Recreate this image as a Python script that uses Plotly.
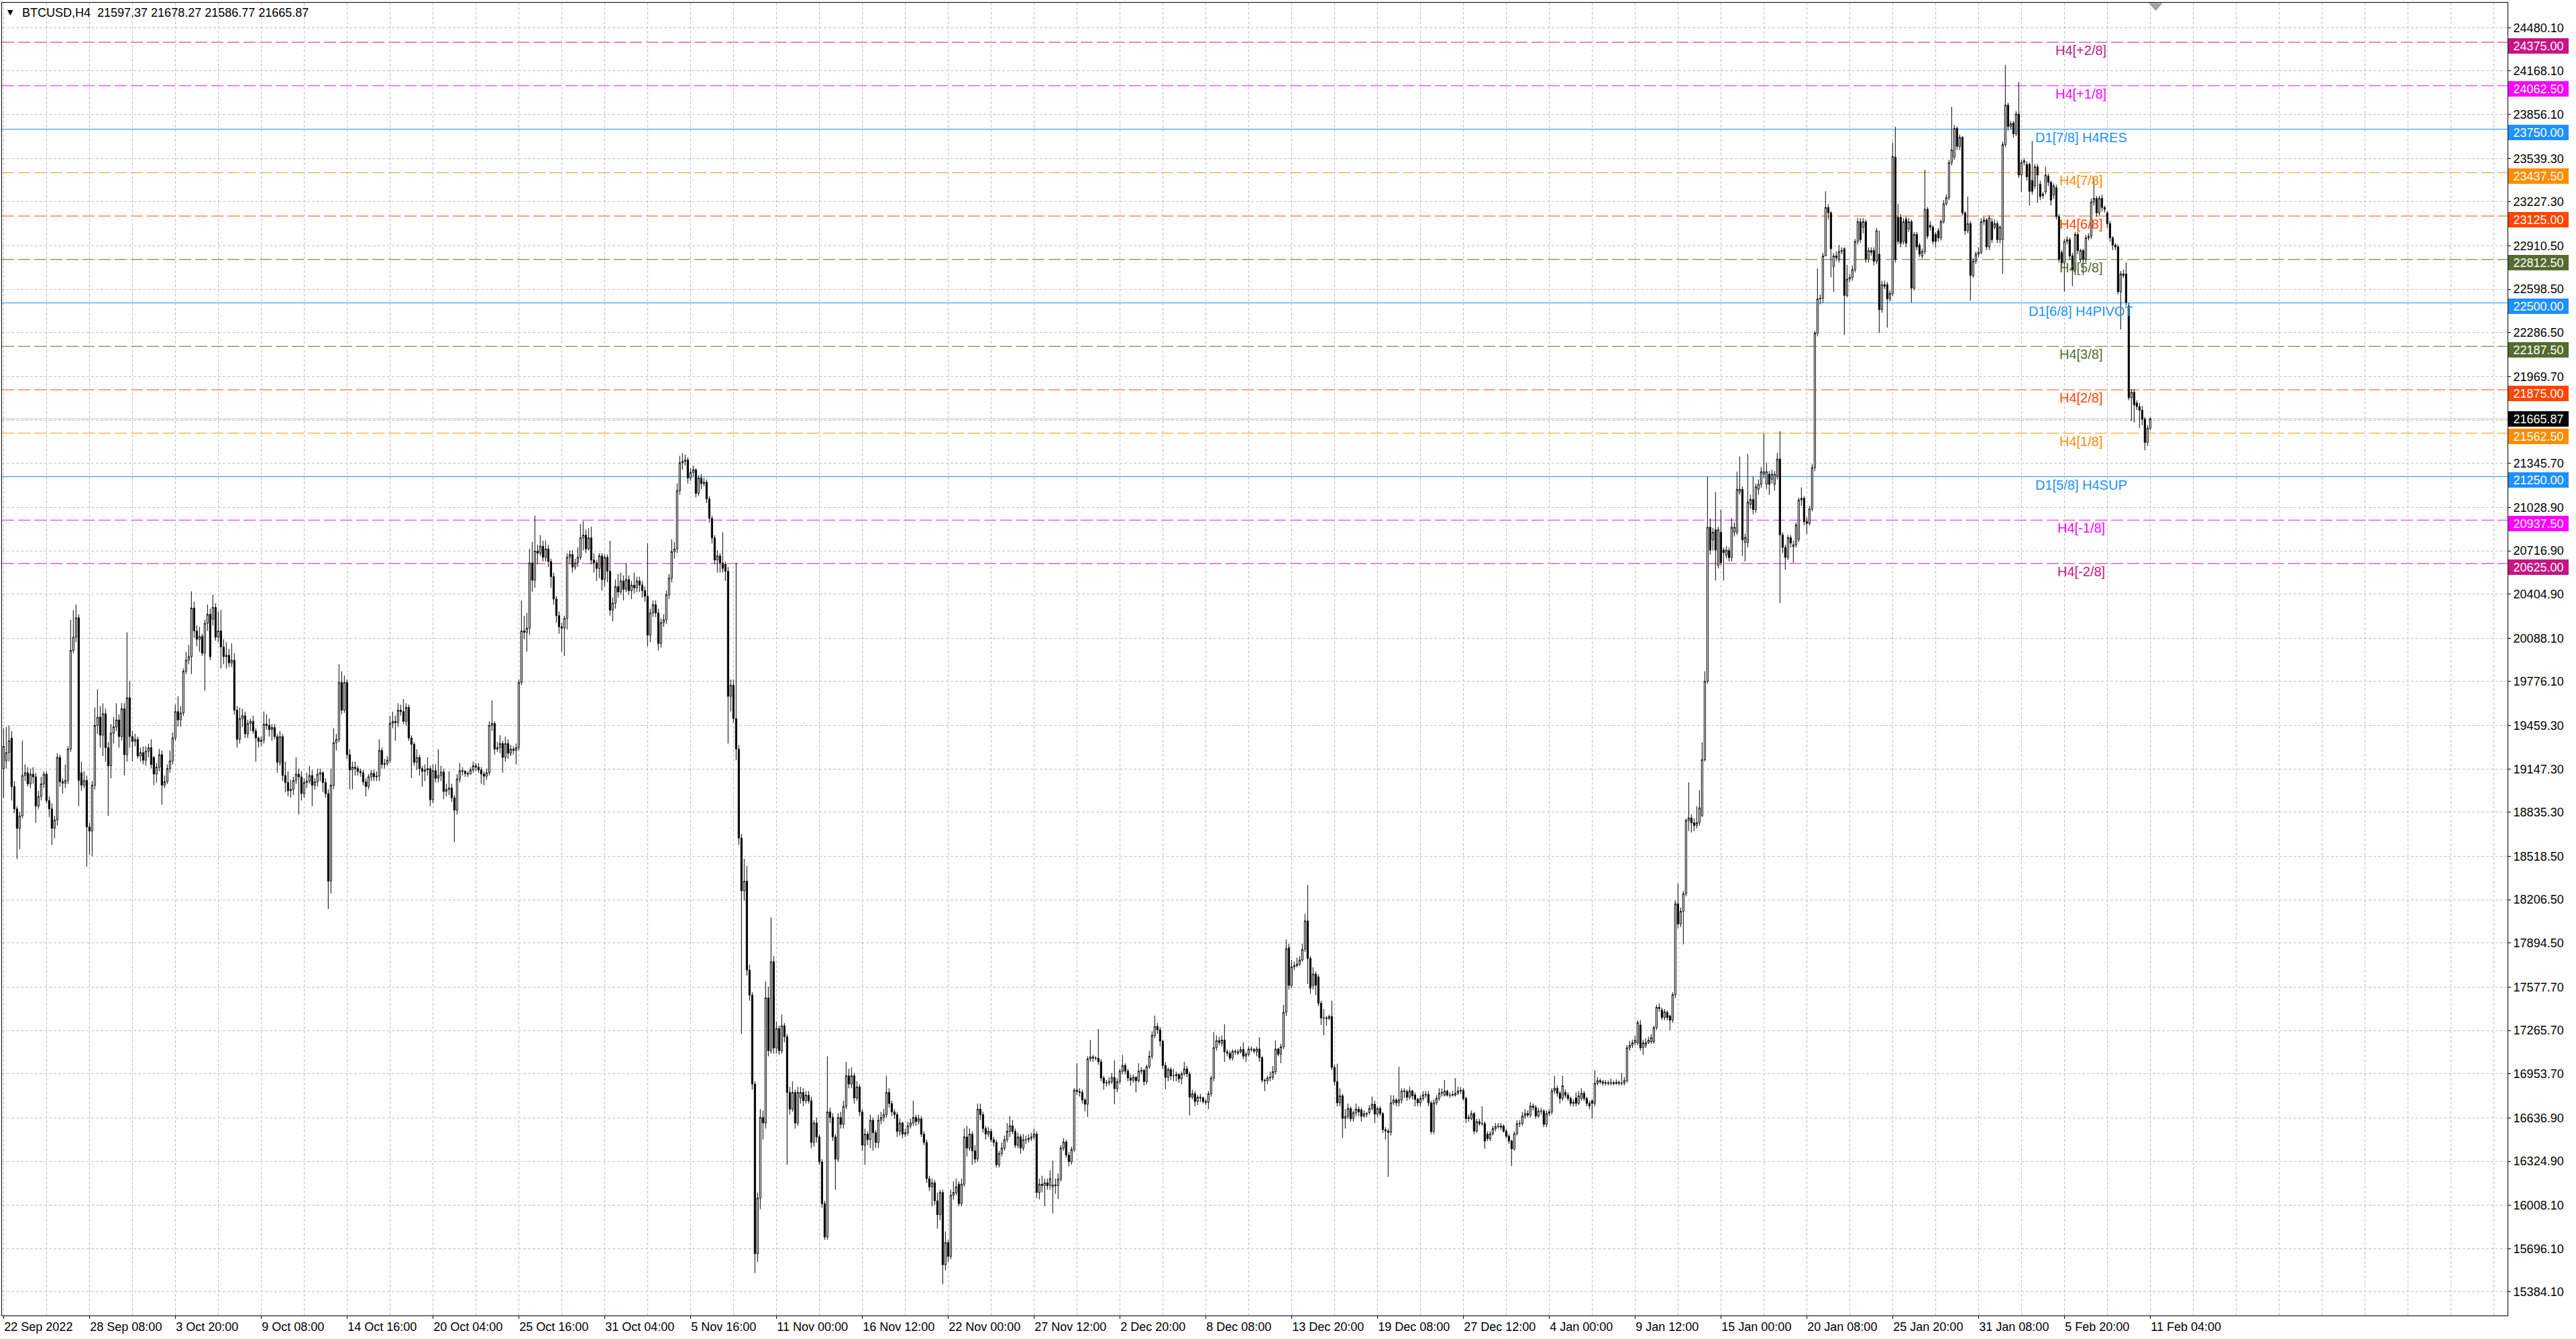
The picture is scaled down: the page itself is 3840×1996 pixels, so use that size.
import plotly.graph_objects as go

# ---------------- data (BTCUSD, H4) ----------------
OPEN = [
19150,19206,19265,19370,19020,18860,18720,18810,19100,19120,
19040,19110,19090,18880,18950,19040,19110,18920,18860,18720,
18780,19230,19055,19045,19065,19290,20000,20095,20235,19120,
19030,19065,18730,18700,19030,19460,19520,19390,19545,19300,
19170,19405,19450,19500,19380,19580,19250,19660,19380,19345,
19360,19240,19265,19210,19275,19300,19230,19110,19160,19250,
19030,19055,19150,19205,19370,19560,19500,19550,19850,19930,
19955,20305,20140,20080,20100,19980,20195,20260,20225,20310,
20095,20140,20025,19955,19965,19910,19930,19570,19360,19510,
19530,19400,19475,19490,19420,19370,19345,19355,19470,19460,
19430,19445,19380,19195,19380,19100,19050,18990,19000,19065,
19110,19090,18970,19050,19060,19100,19030,19055,19110,19120,
19050,18970,18340,19030,19335,19360,19770,19570,19770,19250,
19140,19160,19150,19130,19120,19055,19020,19090,19115,19090,
19095,19280,19180,19185,19210,19475,19490,19480,19570,19560,
19490,19590,19370,19325,19195,19230,19150,19130,19140,19150,
18925,19135,19080,19100,19125,18985,19000,19010,18940,18850,
19075,19135,19130,19115,19110,19140,19170,19160,19140,19110,
19095,19120,19460,19475,19290,19300,19330,19230,19330,19260,
19290,19280,19300,19770,20140,20130,20160,20630,20505,20715,
20700,20750,20670,20730,20640,20530,20370,20250,20170,20160,
20230,20670,20690,20600,20630,20670,20810,20830,20730,20810,
20650,20630,20590,20680,20510,20670,20570,20290,20340,20460,
20420,20500,20440,20510,20430,20470,20450,20500,20470,20430,
20390,20110,20270,20330,20270,20050,20200,20220,20400,20520,
20710,20730,21150,21350,21360,21370,21240,21280,21300,21130,
21240,21200,21210,21090,20950,20810,20650,20680,20630,20620,
20570,19670,19750,19510,19290,18650,18270,18340,17700,17520,
16880,15660,16060,16640,16600,17500,17120,17760,17140,17280,
17120,17300,17220,16820,16700,16820,16600,16780,16820,16760,
16800,16760,16460,16600,16500,16320,16020,15780,16680,16640,
16500,16340,16640,16590,16720,16940,16880,16940,16780,16860,
16680,16440,16520,16480,16620,16530,16460,16620,16640,16660,
16820,16740,16680,16660,16540,16600,16520,16530,16580,16600,
16640,16610,16630,16520,16460,16200,16140,16170,16040,15940,
16100,15580,15740,15640,16080,16100,16160,16020,16160,16500,
16420,16520,16400,16340,16700,16660,16560,16520,16540,16480,
16460,16300,16380,16420,16480,16540,16580,16540,16440,16500,
16420,16480,16480,16490,16500,16520,16100,16160,16150,16170,
16150,16140,16155,16150,16196,16420,16464,16369,16322,16409,
16837,16827,16821,16766,16735,17061,17075,17067,17067,17040,
16924,16888,16890,16898,16928,16847,16898,16973,17014,16973,
16924,16908,16930,16904,16973,16979,16898,17004,17081,17230,
17295,17271,17189,17014,16928,16985,16939,16940,16949,16918,
16953,16990,16953,16786,16810,16755,16786,16780,16755,16749,
16810,16924,17142,17193,17173,17197,17112,17102,17067,17116,
17102,17112,17128,17081,17095,17132,17128,17112,17132,17071,
16908,16904,16924,16928,16969,17132,17095,17148,17397,17861,
17590,17723,17733,17743,17773,17849,18054,17784,17590,17672,
17651,17462,17356,17356,17352,17366,17000,16898,16745,16796,
16633,16648,16705,16633,16674,16700,16694,16648,16668,16674,
16705,16735,16664,16705,16668,16552,16542,16532,16745,16766,
16745,16766,16831,16827,16786,16831,16802,16770,16745,16776,
16802,16806,16745,16538,16745,16777,16814,16800,16830,16800,
16800,16800,16814,16830,16835,16777,16632,16632,16668,16541,
16610,16596,16596,16520,16487,16523,16559,16575,16578,16578,
16541,16505,16470,16414,16523,16596,16596,16650,16668,16657,
16722,16712,16650,16686,16686,16590,16668,16680,16832,16850,
16814,16777,16820,16800,16777,16741,16780,16741,16777,16814,
16777,16741,16760,16741,16886,16905,16896,16886,16890,16886,
16890,16884,16893,16886,16886,16905,17141,17159,17177,17177,
17305,17141,17159,17177,17185,17185,17286,17432,17413,17359,
17395,17370,17340,17523,18177,18032,18123,18250,18777,18795,
18760,18741,18760,18813,19214,19777,20886,20795,20868,20613,
20850,20722,20686,20718,20668,20850,20850,21141,21159,20777,
20777,21050,21086,21013,21160,21195,21268,21195,21268,21232,
21195,21250,21377,20831,20741,20669,20811,20747,20760,20798,
21082,21095,20927,20914,21018,21315,22283,22529,22534,22838,
23187,23148,22761,22838,22813,22870,22890,22554,22671,22684,
22740,22942,23084,23045,23084,22813,22877,22877,22800,22851,
22451,22632,22632,22529,22568,23549,23117,23117,22942,23102,
23032,23084,22606,22993,22916,22838,22870,23174,23058,23045,
22993,23019,22968,23084,23213,23257,23510,23549,23755,23626,
23691,23148,23019,23071,22697,22800,22851,22864,23084,23097,
22903,23084,23045,23071,22955,22955,23639,23923,23768,23794,
23717,23859,23420,23510,23497,23497,23381,23342,23479,23355,
23272,23300,23412,23368,23277,23329,23122,22864,22787,22942,
22955,22838,22735,22993,22813,22877,22813,22968,22980,23226,
23252,23148,23252,23187,23148,23071,22968,22916,22903,22580,
22709,22709,22477,21818,21857,21780,21754,21728,21663,21496,
21597.37,
]

HIGH = [
19440,19450,19460,19420,19060,18880,18840,19350,19180,19160,
19150,19160,19120,18990,19090,19130,19130,18950,18900,18810,
19260,19250,19080,19180,19310,20220,20290,20330,20260,19200,
19130,19100,18760,19060,19590,19720,19600,19620,19580,19340,
19470,19520,19620,19540,19620,19620,20130,19780,19420,19400,
19380,19300,19310,19310,19330,19360,19240,19190,19290,19280,
19100,19180,19280,19410,19610,19670,19600,19870,19990,20040,
20425,20350,20180,20170,20120,20220,20330,20300,20400,20340,
20280,20290,20080,20060,20010,20050,19980,19600,19590,19580,
19560,19500,19510,19530,19440,19380,19380,19560,19540,19510,
19470,19470,19400,19420,19400,19200,19130,19070,19090,19230,
19150,19130,19080,19120,19170,19140,19080,19150,19150,19130,
19080,19000,19150,19440,19400,19900,19850,19820,19790,19290,
19200,19200,19170,19150,19140,19080,19110,19140,19140,19130,
19360,19300,19220,19240,19530,19560,19530,19620,19610,19650,
19620,19610,19390,19340,19290,19250,19170,19180,19230,19170,
19180,19180,19290,19170,19150,19040,19130,19040,18960,19110,
19190,19160,19140,19130,19160,19200,19190,19190,19160,19130,
19150,19490,19640,19490,19340,19390,19350,19380,19360,19320,
19310,19330,19790,20360,20250,20270,20730,20780,20970,20760,
20830,20790,20790,20760,20660,20560,20390,20280,20200,20250,
20700,20720,20720,20660,20740,20910,20930,20870,20880,20890,
20700,20650,20700,20700,20690,20690,20790,20380,20510,20550,
20560,20540,20630,20540,20500,20560,20530,20530,20500,20460,
20770,20300,20360,20360,20300,20230,20260,20430,20550,20800,
20780,21200,21400,21420,21410,21390,21310,21330,21310,21260,
21270,21240,21230,21110,20970,20830,20720,20700,20850,20640,
20600,19790,19790,20630,19320,18680,18500,18450,17740,17540,
16900,16100,16700,16690,17620,17580,18080,17800,17330,17300,
17380,17320,17240,16860,16900,16840,16860,16860,16850,16830,
16830,16790,16620,16640,16520,16340,16040,17080,16710,16670,
16520,16670,16680,16760,17040,16990,17000,16960,16900,16880,
16700,16560,16540,16660,16640,16550,16660,16680,16700,16940,
16850,16760,16700,16680,16630,16610,16560,16610,16630,16760,
16660,16660,16650,16540,16480,16220,16200,16190,16100,16120,
16120,15820,15760,16120,16180,16200,16180,16200,16560,16580,
16560,16540,16440,16740,16740,16680,16580,16570,16560,16500,
16480,16400,16460,16510,16600,16650,16620,16560,16530,16520,
16520,16510,16520,16530,16560,16540,16200,16220,16200,16200,
16260,16330,16200,16236,16440,16491,16480,16390,16430,16850,
17030,16850,16840,16780,17080,17197,17090,17080,17275,17060,
16940,16910,16930,16960,17051,16920,16990,17090,17030,16990,
16950,16950,16935,17030,17000,16990,17020,17120,17260,17372,
17320,17290,17200,17040,17000,17000,16990,16970,16960,16970,
17040,17010,16970,16840,16830,16800,16810,16790,16770,16830,
16940,17254,17230,17220,17230,17311,17130,17120,17130,17130,
17130,17150,17180,17110,17150,17150,17140,17150,17218,17080,
16920,16940,16970,17010,17193,17140,17170,17450,17920,17890,
17773,17760,17790,17800,17890,18105,18313,17800,17720,17690,
17670,17480,17420,17370,17380,17480,17020,17026,16850,16810,
16700,16740,16720,16690,16740,16720,16710,16690,16680,16730,
16790,16760,16720,16720,16680,16570,16560,16800,16800,16780,
17004,16850,16850,16840,16860,16840,16820,16780,16800,16830,
16830,16830,16760,16770,16800,16850,16850,16910,16840,16820,
16830,16923,16860,16860,16850,16790,16660,16690,16680,16630,
16630,16720,16610,16540,16540,16580,16600,16600,16600,16590,
16560,16520,16480,16540,16620,16620,16680,16700,16690,16750,
16740,16730,16710,16710,16700,16690,16700,16850,16940,16870,
16830,16940,16840,16820,16790,16770,16820,16830,16850,16830,
16790,16760,16770,16980,16930,16920,16910,16910,16905,16920,
16905,16915,16905,16960,16930,17160,17190,17200,17230,17340,
17340,17200,17210,17220,17240,17300,17450,17460,17430,17420,
17410,17380,17540,18200,18323,18150,18270,18790,19050,18820,
18790,18880,18995,19340,19850,21250,20950,20880,21141,20890,
21013,20740,20750,20740,20950,20920,21286,21395,21180,20840,
21413,21120,21250,21200,21230,21320,21559,21350,21290,21300,
21290,21420,21577,20850,20760,20830,20830,20790,20920,21100,
21173,21110,20960,21040,21340,22300,22748,22560,22860,23303,
23210,23160,22860,22870,22916,22900,22900,22774,22710,22770,
22960,23110,23110,23110,23100,22900,22900,22900,23040,23020,
22660,22660,22650,22590,23652,23768,23213,23140,23110,23120,
23110,23100,23010,23010,22930,22890,23458,23190,23090,23060,
23010,23040,23100,23240,23280,23530,23910,23780,23770,23711,
23700,23160,23265,23090,22820,22870,22900,23110,23120,23110,
23130,23110,23100,23090,23060,23660,24212,23940,23810,23810,
23880,24091,23530,23540,23520,23510,23665,23500,23500,23380,
23300,23480,23430,23380,23360,23350,23140,22880,22960,22980,
22970,22860,23010,23010,22890,22890,22990,23000,23250,23400,
23270,23270,23280,23200,23160,23090,22980,22930,22920,22730,
22740,22790,22500,21880,21880,21800,21780,21760,21680,21620,
21678.27,
]

LOW = [
18940,19150,19200,18920,18830,18500,18570,18790,19060,19020,
19010,19040,18760,18860,18920,19010,18900,18800,18600,18650,
18740,19020,18970,19010,19040,19270,19980,20060,18880,18990,
19010,18445,18530,18520,19000,19400,19300,19240,19200,18810,
19080,19330,19420,19300,19350,19100,19200,19300,19200,19310,
19220,19200,19180,19170,19230,19150,19030,19050,19130,18890,
19010,19040,19120,19180,19350,19450,19450,19530,19830,19900,
19830,20090,20030,19990,19960,19710,20140,19930,20180,20070,
20060,19870,19900,19870,19880,19880,19540,19300,19330,19450,
19370,19370,19420,19400,19200,19300,19310,19330,19430,19380,
19350,19360,19120,19170,19060,18980,18950,18940,18960,19040,
18820,18920,18940,19010,19040,18880,19000,19020,19060,18980,
18940,18140,18250,19000,19280,19340,19540,19550,19220,19000,
19000,19100,19100,19090,19030,18950,19000,19060,19060,19060,
19060,19150,19150,19170,19190,19440,19350,19450,19530,19470,
19460,19350,19080,19170,19140,19100,19020,19060,19100,18880,
18900,19050,19050,19060,18930,18950,18960,18910,18620,18820,
19050,19100,19090,19090,19110,19120,19130,19120,19040,19030,
19070,19100,19420,19250,19270,19260,19120,19200,19220,19240,
19250,19180,19280,19750,20080,19990,20110,20420,20450,20620,
20680,20640,20640,20600,20450,20330,20200,20120,19990,19960,
20150,20620,20560,20580,20600,20650,20720,20700,20720,20620,
20560,20500,20520,20430,20460,20490,20250,20210,20300,20380,
20400,20360,20420,20400,20370,20410,20420,20420,20380,20350,
20030,20060,20240,20240,20000,20020,20170,20190,20370,20490,
20660,20700,21120,21300,21330,21200,21220,21250,21100,21110,
21160,21180,21060,20920,20770,20620,20560,20560,20560,20500,
19330,19560,19480,19210,18600,17240,18200,17660,17480,16840,
15520,15600,15980,16480,16560,17080,17100,17100,17100,17090,
17100,17180,16300,16660,16680,16560,16580,16740,16720,16740,
16740,16420,16430,16460,16300,15990,15760,15760,16600,16470,
16120,16320,16560,16560,16700,16850,16850,16740,16760,16650,
16400,16300,16440,16420,16400,16420,16420,16590,16610,16640,
16710,16650,16630,16500,16510,16490,16500,16510,16560,16580,
16580,16590,16500,16440,16170,16110,16000,16010,15840,15900,
15440,15540,15600,15620,16050,16080,16000,16000,16140,16360,
16400,16300,16310,16320,16620,16530,16480,16500,16460,16430,
16280,16280,16360,16400,16460,16500,16520,16420,16420,16380,
16400,16450,16460,16470,16480,16060,16050,16100,16000,16120,
16120,15950,16090,16053,16180,16400,16350,16287,16300,16390,
16800,16790,16740,16684,16644,17040,17040,17050,17020,16900,
16840,16860,16870,16880,16735,16820,16880,16950,16950,16900,
16870,16890,16820,16890,16950,16870,16880,16990,17060,17210,
17240,17150,16990,16843,16900,16910,16900,16900,16890,16880,
16940,16930,16654,16770,16720,16730,16750,16740,16730,16700,
16790,16900,17120,17160,17150,17040,17080,17050,17050,17090,
17090,17100,17060,17040,17080,17110,17100,17080,17040,16890,
16830,16880,16900,16910,16950,17080,17030,17130,17370,17560,
17570,17700,17720,17730,17760,17830,17600,17530,17560,17520,
17440,17305,17230,17300,17340,16980,16870,16720,16720,16491,
16560,16630,16610,16610,16650,16650,16610,16640,16640,16660,
16690,16600,16640,16650,16530,16480,16212,16510,16730,16720,
16720,16740,16780,16760,16770,16770,16720,16720,16720,16760,
16780,16720,16520,16520,16730,16760,16790,16790,16790,16780,
16790,16790,16800,16810,16760,16600,16610,16620,16520,16530,
16580,16580,16414,16470,16470,16510,16540,16560,16550,16530,
16490,16450,16290,16400,16510,16570,16580,16630,16640,16640,
16690,16630,16640,16660,16570,16570,16650,16660,16810,16790,
16740,16760,16780,16760,16720,16720,16720,16730,16760,16760,
16720,16700,16632,16720,16870,16880,16870,16870,16870,16870,
16870,16875,16870,16870,16870,16890,17120,17140,17160,17160,
17120,17090,17140,17170,17170,17170,17270,17400,17340,17340,
17340,17268,17320,17500,18000,18010,17886,18230,18700,18690,
18700,18720,18740,18800,19200,19760,20690,20720,20504,20590,
20610,20504,20660,20640,20640,20820,20830,21120,20680,20640,
20740,21020,20980,20990,21120,21170,21240,21160,21120,21200,
21150,21230,20341,20700,20580,20650,20740,20630,20740,20780,
21040,20900,20837,20900,21000,21290,22260,22490,22500,22838,
23100,22684,22580,22800,22790,22850,22270,22540,22650,22660,
22720,22920,22930,23000,22790,22790,22840,22770,22780,22283,
22430,22600,22322,22510,22550,22790,22920,22900,22920,22900,
23010,22503,22590,22880,22830,22820,22850,22960,23020,22920,
22900,22940,22950,23070,23200,23240,23490,23530,23600,23600,
23130,22990,23000,22516,22680,22780,22830,22850,23060,22880,
22880,22930,23030,22930,22930,22709,23620,23740,23750,23690,
23700,23400,23300,23490,23380,23200,23280,23320,23220,23240,
23250,23280,23340,23200,23250,23100,22790,22760,22580,22920,
22810,22620,22700,22850,22790,22700,22790,22950,22960,23200,
23120,23130,23160,23150,23040,22940,22880,22880,22560,22309,
22680,22480,21800,21650,21640,21730,21600,21620,21440,21470,
21586.77,
]

CLOSE = [
19310,19265,19350,19020,18860,18720,18810,19100,19120,19040,
19110,19090,18880,18950,19040,19110,18920,18860,18720,18780,
19230,19055,19045,19065,19290,20000,20095,20235,19065,19030,
19065,18730,18700,19030,19460,19520,19390,19545,19300,19170,
19405,19450,19500,19380,19580,19250,19660,19380,19345,19360,
19240,19265,19210,19275,19300,19180,19110,19160,19250,19030,
19055,19150,19205,19370,19560,19500,19550,19850,19930,19955,
20305,20140,20080,20100,19980,20195,20260,19955,20310,20095,
20140,20025,19955,19965,19910,19930,19570,19360,19510,19530,
19400,19475,19490,19420,19370,19345,19355,19470,19460,19430,
19445,19380,19195,19380,19100,19050,18990,19000,19065,19110,
19090,18970,19050,19060,19100,19030,19055,19110,19120,19050,
18970,18340,19030,19335,19360,19770,19570,19770,19250,19140,
19160,19150,19130,19120,19055,19020,19090,19115,19090,19095,
19280,19180,19185,19210,19475,19490,19480,19570,19560,19490,
19590,19370,19325,19195,19230,19150,19130,19140,19150,18925,
19135,19080,19100,19125,18985,19000,19010,18940,18850,19075,
19135,19130,19115,19110,19140,19170,19160,19140,19110,19095,
19120,19460,19475,19290,19300,19330,19230,19330,19260,19290,
19280,19300,19770,20140,20130,20160,20630,20505,20715,20700,
20750,20670,20730,20640,20530,20370,20250,20170,20160,20230,
20670,20690,20600,20630,20670,20810,20830,20730,20810,20650,
20630,20590,20680,20510,20670,20570,20290,20340,20460,20420,
20500,20440,20510,20430,20470,20450,20500,20470,20430,20390,
20110,20270,20330,20270,20050,20200,20220,20400,20520,20710,
20730,21150,21350,21360,21370,21240,21280,21300,21130,21240,
21200,21210,21090,20950,20810,20650,20680,20630,20590,20570,
19670,19750,19510,19290,18650,18270,18340,17700,17520,16880,
15660,16060,16640,16600,17500,17120,17760,17140,17280,17120,
17300,17220,16820,16700,16820,16600,16820,16820,16760,16800,
16760,16460,16600,16500,16320,16020,15780,16680,16640,16500,
16340,16640,16590,16720,16940,16880,16940,16780,16860,16680,
16440,16520,16480,16620,16530,16460,16620,16640,16660,16820,
16740,16680,16660,16540,16600,16520,16530,16580,16600,16640,
16610,16630,16520,16460,16200,16140,16170,16040,15940,16100,
15580,15740,15640,16080,16100,16140,16020,16160,16500,16420,
16520,16400,16340,16700,16660,16560,16520,16540,16480,16460,
16300,16380,16420,16480,16540,16580,16540,16440,16500,16420,
16480,16480,16490,16500,16520,16100,16160,16150,16170,16150,
16200,16155,16150,16196,16420,16464,16369,16322,16409,16837,
16827,16821,16766,16735,17061,17075,17067,17067,17040,16924,
16888,16890,16898,16928,16847,16898,16973,17014,16973,16924,
16908,16930,16904,16973,16979,16898,17004,17081,17230,17295,
17271,17189,17014,16928,16985,16939,16940,16949,16918,16953,
16990,16953,16786,16810,16755,16786,16780,16755,16749,16810,
16924,17142,17193,17180,17197,17112,17102,17067,17116,17112,
17112,17128,17081,17095,17132,17128,17118,17132,17071,16908,
16904,16924,16928,16969,17132,17095,17148,17397,17855,17590,
17723,17733,17743,17773,17849,18054,17784,17570,17672,17590,
17462,17356,17356,17352,17366,17000,16898,16745,16796,16633,
16648,16705,16630,16674,16700,16680,16648,16668,16664,16705,
16735,16664,16705,16668,16552,16542,16532,16745,16766,16745,
16766,16831,16827,16786,16831,16796,16770,16745,16776,16802,
16806,16745,16538,16745,16777,16814,16820,16830,16800,16800,
16805,16814,16830,16835,16777,16632,16640,16668,16541,16610,
16596,16596,16470,16487,16523,16559,16575,16578,16570,16541,
16505,16470,16414,16523,16596,16596,16650,16668,16657,16722,
16712,16650,16686,16686,16590,16668,16680,16832,16850,16814,
16777,16868,16800,16777,16741,16750,16741,16795,16814,16777,
16741,16723,16741,16886,16905,16896,16886,16890,16886,16890,
16884,16893,16886,16886,16905,17141,17159,17177,17195,17323,
17141,17177,17177,17195,17214,17286,17432,17423,17359,17400,
17359,17340,17523,18177,18032,18123,18250,18777,18795,18760,
18741,18760,18868,19214,19777,20886,20722,20850,20722,20868,
20632,20704,20722,20668,20886,20886,21159,21159,20795,20813,
21068,21086,21013,21177,21195,21286,21286,21286,21195,21268,
21268,21377,20831,20741,20669,20811,20772,20760,20902,21082,
21095,20927,20914,21018,21315,22283,22529,22534,22838,23187,
23148,22890,22838,22826,22870,22877,22554,22671,22684,22740,
22942,23084,22955,23084,22813,22877,22864,22800,23019,22451,
22632,22619,22529,22568,23554,22813,22942,22929,23084,22929,
23084,22606,22993,22903,22851,22870,23174,22980,23045,22942,
22942,22968,23084,23213,23257,23510,23600,23755,23626,23691,
23148,23019,23071,22697,22800,22851,22864,23084,23097,22903,
23110,22955,23071,22955,23045,23639,23923,23768,23789,23717,
23859,23420,23510,23523,23407,23303,23303,23479,23420,23265,
23283,23420,23368,23239,23342,23122,22813,22787,22942,22955,
22838,22735,22993,22877,22877,22813,22968,22980,23226,23252,
23148,23252,23187,23174,23071,22968,22916,22903,22580,22709,
22697,22503,21818,21857,21767,21754,21728,21663,21496,21599,
21665.87,
]

# time-axis labels (bar index of each label and its text)
X_LABEL_BARS = [0, 32, 64, 96, 128, 160, 192, 224, 256, 288, 320, 352, 384,
                416, 448, 480, 512, 544, 576, 608, 640, 672, 704, 736, 768, 800]
X_LABELS = ["22 Sep 2022", "28 Sep 08:00", "3 Oct 20:00", "9 Oct 08:00", "14 Oct 16:00",
            "20 Oct 04:00", "25 Oct 16:00", "31 Oct 04:00", "5 Nov 16:00", "11 Nov 00:00",
            "16 Nov 12:00", "22 Nov 00:00", "27 Nov 12:00", "2 Dec 20:00", "8 Dec 08:00",
            "13 Dec 20:00", "19 Dec 08:00", "27 Dec 12:00", "4 Jan 00:00", "9 Jan 12:00",
            "15 Jan 00:00", "20 Jan 08:00", "25 Jan 20:00", "31 Jan 08:00", "5 Feb 20:00",
            "11 Feb 04:00"]

# price-axis labels
Y_TICKS = [24480.10, 24168.10, 23856.10, 23539.30, 23227.30, 22910.50, 22598.50,
           22286.50, 21969.70, 21657.70, 21345.70, 21028.90, 20716.90, 20404.90,
           20088.10, 19776.10, 19459.30, 19147.30, 18835.30, 18518.50, 18206.50,
           17894.50, 17577.70, 17265.70, 16953.70, 16636.90, 16324.90, 16008.10,
           15696.10, 15384.10]

# Murrey-math style levels
LEVEL_PRICES = [24375.00, 24062.50, 23750.00, 23437.50, 23125.00, 22812.50, 22500.00,
                22187.50, 21875.00, 21562.50, 21250.00, 20937.50, 20625.00]
LEVEL_NAMES = ["H4[+2/8]", "H4[+1/8]", "D1[7/8] H4RES", "H4[7/8]", "H4[6/8]", "H4[5/8]",
               "D1[6/8] H4PIVOT", "H4[3/8]", "H4[2/8]", "H4[1/8]", "D1[5/8] H4SUP",
               "H4[-1/8]", "H4[-2/8]"]
LEVEL_COLORS = ["#C71585", "#FF00FF", "#1E90FF", "#FF8C00", "#FF4500", "#556B2F",
                "#1E90FF", "#556B2F", "#FF4500", "#FF8C00", "#1E90FF", "#FF00FF", "#C71585"]
LEVEL_SOLID = [False, False, True, False, False, False, True, False, False, False, True,
               False, False]

SYMBOL = "BTCUSD,H4"
BID = 21665.87

# ---------------- figure ----------------
n = len(CLOSE)
if not (len(OPEN) == len(HIGH) == len(LOW) == n):
    raise SystemExit(f"length mismatch O{len(OPEN)} H{len(HIGH)} L{len(LOW)} C{n}")

hi = [max(h, o, c) for o, h, c in zip(OPEN, HIGH, CLOSE)]
lo = [min(l, o, c) for o, l, c in zip(OPEN, LOW, CLOSE)]
bars = list(range(n))

FONT = "Liberation Sans, Arial, sans-serif"
GRID = "#C0C0C0"

fig = go.Figure()
fig.add_trace(go.Candlestick(
    x=bars, open=OPEN, high=hi, low=lo, close=CLOSE,
    increasing=dict(line=dict(color="black", width=1), fillcolor="white"),
    decreasing=dict(line=dict(color="black", width=1), fillcolor="black"),
    whiskerwidth=0, hoverinfo="skip", showlegend=False,
))

shapes = []
annotations = []
LABEL_BAR = 774.2
for p, name, col, solid in zip(LEVEL_PRICES, LEVEL_NAMES, LEVEL_COLORS, LEVEL_SOLID):
    shapes.append(dict(type="line", xref="paper", x0=0, x1=1, yref="y", y0=p, y1=p,
                       line=dict(color=col, width=1, dash="solid" if solid else "18px,6px"),
                       layer="below"))
    annotations.append(dict(x=LABEL_BAR, y=p, xref="x", yref="y", text=name,
                            showarrow=False, xanchor="center", yanchor="middle", yshift=-12,
                            font=dict(family=FONT, size=20, color=col)))
    annotations.append(dict(x=1, y=p, xref="paper", yref="y", text=f"{p:.2f}",
                            showarrow=False, xanchor="left", yanchor="middle", xshift=1, yshift=-5,
                            bgcolor=col, bordercolor=col, borderwidth=1, borderpad=2,
                            width=84, height=17, align="center",
                            font=dict(family=FONT, size=18, color="white")))

# bid line and its label
shapes.append(dict(type="line", xref="paper", x0=0, x1=1, yref="y", y0=BID, y1=BID,
                   line=dict(color="#C0C0C0", width=1), layer="below"))
annotations.append(dict(x=1, y=BID, xref="paper", yref="y", text=f"{BID:.2f}",
                        showarrow=False, xanchor="left", yanchor="middle", xshift=1,
                        bgcolor="black", bordercolor="black", borderwidth=1, borderpad=2,
                        width=84, height=17, align="center",
                        font=dict(family=FONT, size=18, color="white")))

# header
annotations.append(dict(x=0, y=1, xref="paper", yref="paper", text="\u25BC", showarrow=False,
                        xanchor="left", yanchor="top", xshift=6, yshift=-6,
                        font=dict(family="DejaVu Sans", size=11, color="black")))
annotations.append(dict(x=0, y=1, xref="paper", yref="paper",
                        text=f"{SYMBOL}\u00a0\u00a0{OPEN[-1]:.2f} {hi[-1]:.2f} {lo[-1]:.2f} {CLOSE[-1]:.2f}",
                        showarrow=False, xanchor="left", yanchor="top", xshift=28, yshift=-3,
                        font=dict(family=FONT, size=18, color="black")))

# chart-shift marker (small grey triangle on the top border)
shapes.append(dict(type="path", xref="paper", yref="paper",
                   path="M 0.8570 0.9995 L 0.8621 0.9995 L 0.8596 0.9940 Z",
                   fillcolor="#A0A0A0", line=dict(color="#A0A0A0", width=1), layer="above"))

minor_grid = list(range(0, 929, 16))

fig.update_layout(
    width=3840, height=1996,
    margin=dict(l=3, r=102, t=4, b=35, pad=0),
    paper_bgcolor="white", plot_bgcolor="white",
    boxgap=0.25,
    shapes=shapes, annotations=annotations,
    showlegend=False,
    font=dict(family=FONT, size=18, color="black"),
    xaxis=dict(
        range=[-0.575, 933.175], rangeslider=dict(visible=False),
        tickmode="array", tickvals=X_LABEL_BARS, ticktext=X_LABELS,
        ticks="outside", ticklen=4, tickcolor="black", tickwidth=1,
        ticklabelposition="outside right",
        tickfont=dict(family=FONT, size=18, color="black"),
        showgrid=True, gridcolor=GRID, griddash="4px,3px", gridwidth=1,
        minor=dict(tickmode="array", tickvals=minor_grid, showgrid=True,
                   gridcolor=GRID, griddash="4px,3px", gridwidth=1, ticks=""),
        showline=True, linecolor="black", linewidth=1, mirror=True,
        zeroline=False, fixedrange=True,
    ),
    yaxis=dict(
        side="right", range=[15215, 24660],
        tickmode="array", tickvals=Y_TICKS, ticktext=[f"{v:.2f}" for v in Y_TICKS],
        ticks="outside", ticklen=4, tickcolor="black", tickwidth=1,
        tickfont=dict(family=FONT, size=18, color="black"),
        showgrid=True, gridcolor=GRID, griddash="4px,3px", gridwidth=1,
        showline=True, linecolor="black", linewidth=1, mirror=True,
        zeroline=False, fixedrange=True,
    ),
)

fig.write_html("out.html", config={"displayModeBar": False},
               post_script="document.body.style.margin='0px';document.body.style.overflow='hidden';")
